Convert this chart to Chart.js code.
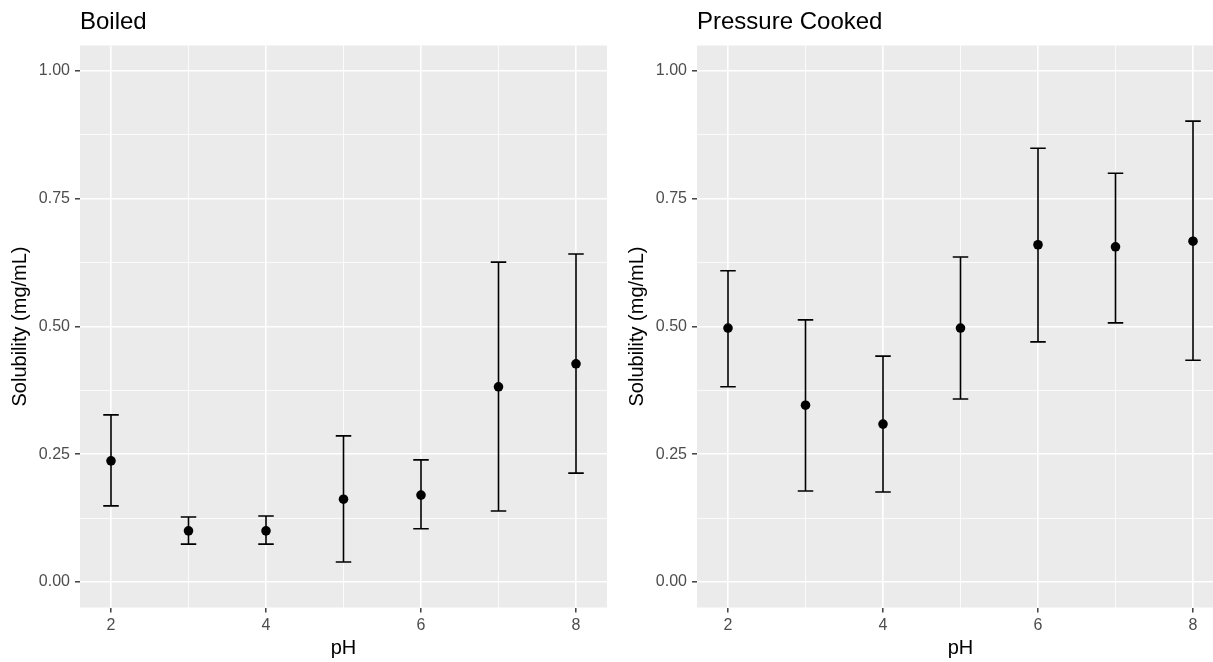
<!DOCTYPE html>
<html>
<head>
<meta charset="utf-8">
<script src="https://cdn.jsdelivr.net/npm/chart.js@4.4.0/dist/chart.umd.min.js"></script>
<style>
  html, body { margin: 0; padding: 0; background: #fff; overflow: hidden; width: 1213px; height: 662px; }
  .panel { position: absolute; top: 0; width: 620px; height: 662px; }
  #boiledBox { left: 0; }
  #pressureBox { left: 617px; }
</style>
</head>
<body>
<div class="panel" id="boiledBox"><canvas id="boiledChart"></canvas></div>
<div class="panel" id="pressureBox"><canvas id="pressureChart"></canvas></div>
<script>
// data
const phValues = [2, 3, 4, 5, 6, 7, 8];

const boiledMean  = [0.237, 0.100, 0.100, 0.162, 0.170, 0.382, 0.427];
const boiledLower = [0.149, 0.074, 0.074, 0.039, 0.104, 0.139, 0.213];
const boiledUpper = [0.327, 0.127, 0.129, 0.286, 0.239, 0.626, 0.642];

const pressureMean  = [0.497, 0.346, 0.309, 0.497, 0.660, 0.656, 0.667];
const pressureLower = [0.382, 0.178, 0.176, 0.358, 0.470, 0.507, 0.434];
const pressureUpper = [0.609, 0.513, 0.442, 0.636, 0.849, 0.800, 0.902];

const xMajorTicks = [2, 4, 6, 8];
const xMinorTicks = [3, 5, 7];
const yMajorTicks = [0, 0.25, 0.5, 0.75, 1];
const yMinorTicks = [0.125, 0.375, 0.625, 0.875];

const FONT = '"Liberation Sans", Arial, sans-serif';

// grey panel behind the grid
const panelBackground = {
  id: "panelBackground",
  beforeDraw(chart) {
    const { ctx, chartArea } = chart;
    ctx.save();
    ctx.fillStyle = "#EBEBEB";
    ctx.fillRect(chartArea.left, chartArea.top, chartArea.right - chartArea.left, chartArea.bottom - chartArea.top);
    ctx.restore();
  },
};

// vertical error bars with caps, placed through the chart scales
const errorBars = {
  id: "errorBars",
  beforeDatasetsDraw(chart) {
    const { ctx, scales } = chart;
    const ds = chart.data.datasets[0];
    ctx.save();
    ctx.strokeStyle = "#000";
    ctx.lineWidth = 1.6;
    ds.data.forEach((p, i) => {
      const px = scales.x.getPixelForValue(p.x);
      const x0 = scales.x.getPixelForValue(p.x - 0.1);
      const x1 = scales.x.getPixelForValue(p.x + 0.1);
      const yLo = scales.y.getPixelForValue(ds.lower[i]);
      const yHi = scales.y.getPixelForValue(ds.upper[i]);
      ctx.beginPath();
      ctx.moveTo(px, yLo); ctx.lineTo(px, yHi);
      ctx.moveTo(x0, yLo); ctx.lineTo(x1, yLo);
      ctx.moveTo(x0, yHi); ctx.lineTo(x1, yHi);
      ctx.stroke();
    });
    ctx.restore();
  },
};

function isMajor(list, v) {
  return list.some((m) => Math.abs(m - v) < 1e-6);
}

function makePanel(canvasId, title, mean, lower, upper) {
  const ctx = document.getElementById(canvasId).getContext("2d");
  return new Chart(ctx, {
    type: "scatter",
    data: {
      datasets: [
        {
          data: phValues.map((x, i) => ({ x: x, y: mean[i] })),
          lower: lower,
          upper: upper,
          backgroundColor: "#000",
          borderWidth: 0,
          pointRadius: 4.8,
          pointHoverRadius: 4.8,
        },
      ],
    },
    options: {
      responsive: true,
      maintainAspectRatio: false,
      animation: false,
      layout: { padding: { left: 0, right: 13, top: 0, bottom: 0 } },
      plugins: {
        legend: { display: false },
        tooltip: { enabled: false },
        title: {
          display: true,
          text: title,
          align: "start",
          fullSize: false,
          color: "#000",
          font: { family: FONT, size: 24, weight: "normal" },
          padding: { top: 8, bottom: 8.7 },
        },
      },
      scales: {
        x: {
          type: "linear",
          min: 1.6,
          max: 8.4,
          afterBuildTicks: (scale) => {
            scale.ticks = [...xMajorTicks, ...xMinorTicks].sort((a, b) => a - b).map((v) => ({ value: v }));
          },
          afterFit: (scale) => { scale.height = 54.5; },
          border: { display: false },
          grid: {
            color: "#fff",
            lineWidth: (c) => (isMajor(xMajorTicks, c.tick.value) ? 1.6 : 0.8),
            tickColor: (c) => (isMajor(xMajorTicks, c.tick.value) ? "#333" : "rgba(0,0,0,0)"),
            tickWidth: 1.4,
            tickLength: 5,
          },
          ticks: {
            autoSkip: false,
            maxRotation: 0,
            padding: 3,
            color: "#4D4D4D",
            font: { family: FONT, size: 16 },
            callback: (v) => (isMajor(xMajorTicks, v) ? String(v) : ""),
          },
          title: {
            display: true,
            text: "pH",
            color: "#000",
            font: { family: FONT, size: 20 },
            padding: { top: 0, bottom: 2 },
          },
        },
        y: {
          type: "linear",
          min: -0.05,
          max: 1.05,
          afterBuildTicks: (scale) => {
            scale.ticks = [...yMajorTicks, ...yMinorTicks].sort((a, b) => a - b).map((v) => ({ value: v }));
          },
          afterFit: (scale) => { scale.width = 80; },
          border: { display: false },
          grid: {
            color: "#fff",
            lineWidth: (c) => (isMajor(yMajorTicks, c.tick.value) ? 1.6 : 0.8),
            tickColor: (c) => (isMajor(yMajorTicks, c.tick.value) ? "#333" : "rgba(0,0,0,0)"),
            tickWidth: 1.4,
            tickLength: 5,
          },
          ticks: {
            autoSkip: false,
            padding: 5,
            color: "#4D4D4D",
            font: { family: FONT, size: 16 },
            callback: (v) => (isMajor(yMajorTicks, v) ? v.toFixed(2) : ""),
          },
          title: {
            display: true,
            text: "Solubility (mg/mL)",
            color: "#000",
            font: { family: FONT, size: 20 },
            padding: { top: 8, bottom: 0 },
          },
        },
      },
    },
    plugins: [panelBackground, errorBars],
  });
}

makePanel("boiledChart", "Boiled", boiledMean, boiledLower, boiledUpper);
makePanel("pressureChart", "Pressure Cooked", pressureMean, pressureLower, pressureUpper);
</script>
</body>
</html>
